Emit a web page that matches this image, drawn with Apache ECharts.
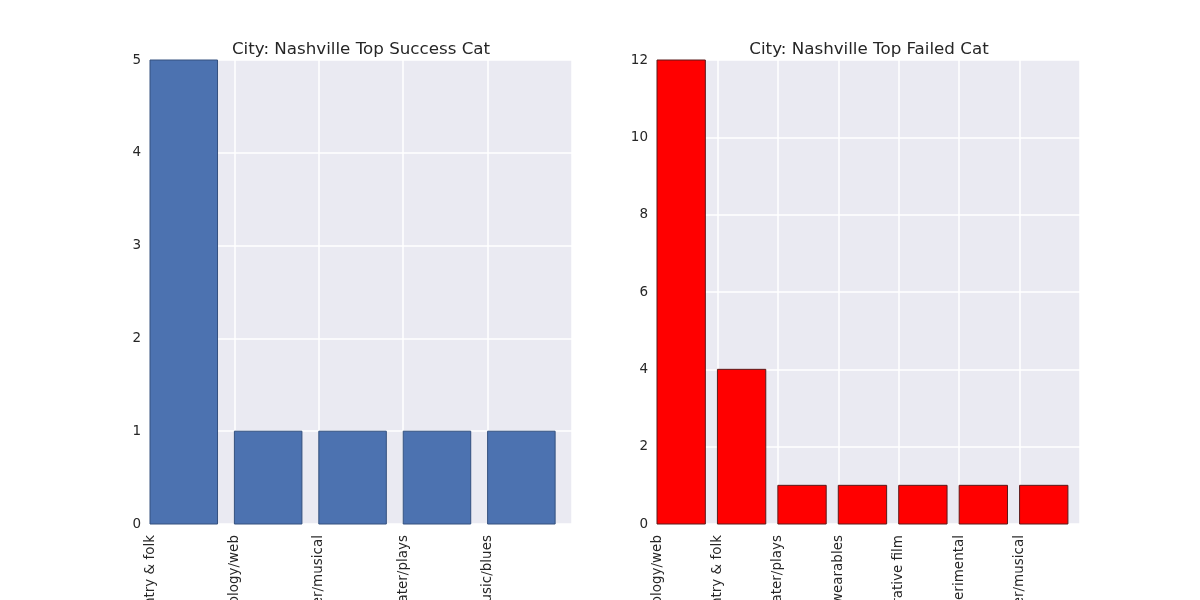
<!DOCTYPE html>
<html>
<head>
<meta charset="utf-8">
<script src="https://cdn.jsdelivr.net/npm/echarts@6/dist/echarts.min.js"></script>
<style>html,body{margin:0;padding:0;background:#fff;}#c{width:1200px;height:600px;}</style>
</head>
<body>
<div id="c"></div>
<script>
const successCats = ["music/country & folk", "technology/web", "theater/musical", "theater/plays", "music/blues"];
const successVals = [5, 1, 1, 1, 1];
const failedCats = ["technology/web", "music/country & folk", "theater/plays", "technology/wearables", "film & video/narrative film", "film & video/experimental", "theater/musical"];
const failedVals = [12, 4, 1, 1, 1, 1, 1];
const successTicks = [0, 1, 2, 3, 4, 5];
const failedTicks = [0, 2, 4, 6, 8, 10, 12];

const FONT = "DejaVu Sans";
const TXT = "#262626";

function makeRender(fill, stroke) {
  return function (params, api) {
    const x = api.value(0), y = api.value(1);
    const p0 = api.coord([x, y]);
    const p1 = api.coord([x + 0.8, 0]);
    return {
      type: 'rect',
      shape: { x: p0[0], y: p0[1], width: p1[0] - p0[0], height: p1[1] - p0[1] },
      style: { fill: fill, stroke: stroke, lineWidth: 1 }
    };
  };
}

function xAxis(idx, cats) {
  return {
    type: 'value', gridIndex: idx, min: 0, max: cats.length, interval: 1,
    axisLine: { show: false }, axisTick: { show: false },
    splitLine: { show: true, lineStyle: { color: '#fff', width: 1.5 } },
    axisLabel: {
      rotate: 90, margin: 11, color: TXT, fontFamily: FONT, fontSize: 13.5,
      showMaxLabel: true, showMinLabel: true,
      formatter: v => cats[v] || ''
    }
  };
}
function yAxis(idx, ticks) {
  return {
    type: 'value', gridIndex: idx, min: ticks[0], max: ticks[ticks.length - 1],
    interval: ticks[1] - ticks[0],
    axisLine: { show: false }, axisTick: { show: false },
    splitLine: { show: true, lineStyle: { color: '#fff', width: 1.5 } },
    axisLabel: { color: TXT, fontFamily: FONT, fontSize: 13.5, margin: 9 }
  };
}

const chart = echarts.init(document.getElementById('c'), null, { renderer: 'canvas' });
chart.setOption({
  animation: false,
  title: [
    { text: 'City: Nashville Top Success Cat', left: 356, top: 36, textAlign: 'center',
      textStyle: { fontFamily: FONT, fontSize: 16.7, fontWeight: 'normal', color: TXT } },
    { text: 'City: Nashville Top Failed Cat', left: 864, top: 36, textAlign: 'center',
      textStyle: { fontFamily: FONT, fontSize: 16.7, fontWeight: 'normal', color: TXT } }
  ],
  grid: [
    { left: 150, right: 628, top: 60, bottom: 76, show: true, backgroundColor: '#EAEAF2', borderWidth: 0,
      containLabel: false, outerBoundsMode: 'none' },
    { left: 657, right: 120, top: 60, bottom: 76, show: true, backgroundColor: '#EAEAF2', borderWidth: 0,
      containLabel: false, outerBoundsMode: 'none' }
  ],
  xAxis: [xAxis(0, successCats), xAxis(1, failedCats)],
  yAxis: [yAxis(0, successTicks), yAxis(1, failedTicks)],
  series: [
    { type: 'custom', xAxisIndex: 0, yAxisIndex: 0,
      renderItem: makeRender('#4C72B0', '#34507e'),
      data: successVals.map((v, i) => [i, v]) },
    { type: 'custom', xAxisIndex: 1, yAxisIndex: 1,
      renderItem: makeRender('#FF0000', '#5a1a1a'),
      data: failedVals.map((v, i) => [i, v]) }
  ]
});
</script>
</body>
</html>
